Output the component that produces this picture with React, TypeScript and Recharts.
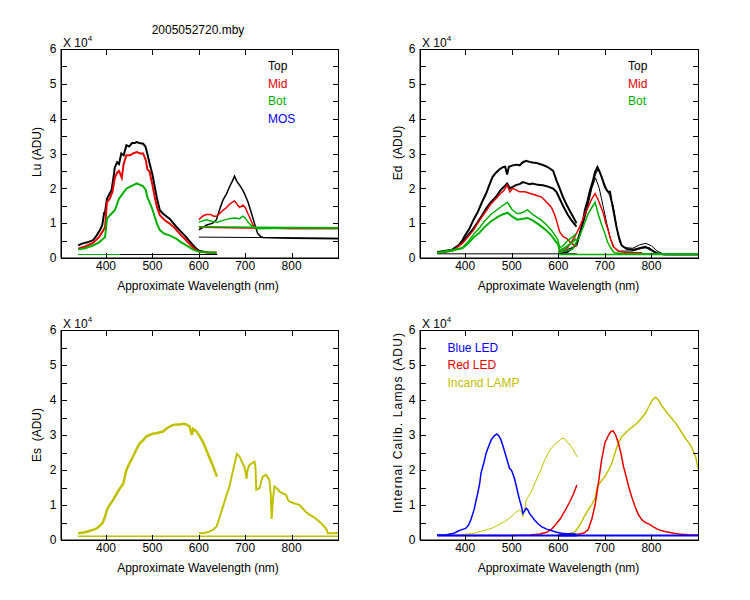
import React from 'react';
import { LineChart, Line, XAxis, YAxis } from 'recharts';

const FONT = '"Liberation Sans", Arial, Helvetica, sans-serif';
const BLACK = '#000000';
const RED = '#e80000';
const GREEN = '#00b000';
const BLUE = '#0000ff';
const OLIVE = '#c0c000';

const X_DOMAIN = [303, 900];
const Y_DOMAIN = [0, 6];
const X_TICKS = [400, 500, 600, 700, 800];
const Y_TICKS = [0, 0.5, 1, 1.5, 2, 2.5, 3, 3.5, 4, 4.5, 5, 5.5, 6];

// ---------- Lu panel (values in units of 10^4 ADU) ----------
const luBaseA = [[340, 0.1], [640, 0.1]];
const luBotBaseA = [[340, 0.1], [430, 0.1]];
const luTopA = [[340, 0.36], [350, 0.42], [360, 0.45], [372, 0.51], [380, 0.65], [387, 0.8], [392, 0.95], [396, 1.3], [398, 1.32], [402, 1.7], [408, 1.85], [412, 1.95], [416, 2.3], [419, 2.6], [424, 2.75], [428, 2.7], [433, 3.0], [438, 2.95], [444, 3.24], [450, 3.2], [456, 3.3], [462, 3.3], [466, 3.33], [472, 3.3], [480, 3.28], [485, 3.2], [489, 3.0], [494, 2.71], [500, 2.4], [505, 2.04], [510, 1.7], [516, 1.37], [523, 1.27], [530, 1.2], [537, 1.13], [545, 1.0], [552, 0.89], [562, 0.75], [573, 0.6], [580, 0.48], [588, 0.36], [595, 0.26], [602, 0.2], [620, 0.16], [638, 0.15]];
const luTopB = [[600, 0.81], [616, 0.94], [630, 1.0], [638, 1.1], [645, 1.4], [652, 1.66], [660, 1.85], [666, 2.04], [672, 2.2], [677, 2.35], [682, 2.2], [688, 2.09], [695, 1.94], [700, 1.8], [706, 1.61], [712, 1.35], [717, 1.13], [722, 0.9], [727, 0.7], [733, 0.62], [738, 0.59], [760, 0.58], [800, 0.57], [850, 0.56], [900, 0.55]];
const luTopFlatB = [[600, 0.6], [700, 0.59], [800, 0.58], [900, 0.57]];
const luMidA = [[340, 0.27], [355, 0.33], [372, 0.43], [385, 0.6], [392, 0.75], [398, 0.89], [402, 1.6], [408, 1.7], [414, 1.9], [419, 2.3], [424, 2.45], [428, 2.5], [434, 2.3], [438, 2.7], [444, 2.95], [452, 2.95], [458, 3.0], [466, 3.04], [474, 3.0], [480, 3.0], [486, 2.8], [489, 2.55], [494, 2.47], [500, 2.1], [505, 1.75], [510, 1.45], [516, 1.23], [523, 1.13], [530, 1.05], [537, 0.99], [545, 0.9], [552, 0.8], [562, 0.65], [573, 0.51], [580, 0.4], [588, 0.3], [595, 0.22], [602, 0.18], [620, 0.16], [638, 0.15]];
const luMidB = [[600, 1.1], [608, 1.2], [616, 1.25], [625, 1.25], [632, 1.2], [638, 1.2], [645, 1.28], [652, 1.37], [660, 1.45], [666, 1.54], [672, 1.6], [677, 1.64], [682, 1.55], [688, 1.45], [695, 1.52], [700, 1.45], [706, 1.27], [712, 1.1], [717, 0.94], [722, 0.88], [727, 0.86], [800, 0.85], [900, 0.85]];
const luMidFlatB = [[600, 0.88], [700, 0.86], [800, 0.85], [900, 0.85]];
const luBotA = [[340, 0.24], [355, 0.28], [372, 0.36], [385, 0.45], [398, 0.6], [402, 1.13], [410, 1.25], [419, 1.37], [424, 1.55], [428, 1.7], [436, 1.85], [444, 1.99], [452, 2.05], [460, 2.1], [466, 2.14], [474, 2.1], [480, 2.06], [486, 1.95], [489, 1.75], [494, 1.6], [500, 1.4], [505, 1.18], [510, 0.98], [516, 0.8], [525, 0.7], [537, 0.65], [552, 0.55], [562, 0.45], [573, 0.36], [588, 0.24], [602, 0.17], [638, 0.15]];
const luBotB = [[600, 1.03], [616, 1.1], [630, 1.05], [640, 1.03], [652, 1.08], [666, 1.13], [677, 1.15], [688, 1.13], [695, 1.2], [700, 1.15], [706, 1.03], [712, 0.95], [717, 0.89], [727, 0.84], [800, 0.86], [900, 0.86]];
const luBotFlatB = [[600, 0.9], [720, 0.88], [900, 0.87]];

// ---------- Ed panel ----------
const edBaseA = [[340, 0.12], [640, 0.12]];
const edBaseB = [[600, 0.1], [900, 0.1]];
const edTopA = [[340, 0.17], [355, 0.2], [372, 0.24], [385, 0.35], [394, 0.51], [400, 0.65], [409, 0.84], [418, 1.1], [427, 1.32], [436, 1.6], [445, 1.85], [452, 2.1], [459, 2.33], [466, 2.45], [474, 2.55], [481, 2.61], [486, 2.62], [490, 2.4], [494, 2.62], [502, 2.66], [510, 2.68], [517, 2.66], [524, 2.75], [531, 2.79], [538, 2.76], [545, 2.74], [553, 2.73], [560, 2.7], [567, 2.67], [574, 2.63], [582, 2.57], [589, 2.5], [596, 2.23], [603, 2.0], [610, 1.75], [617, 1.55], [624, 1.37], [632, 1.18], [639, 1.0]];
const edTop2A = [[340, 0.15], [372, 0.22], [394, 0.45], [409, 0.7], [418, 0.85], [427, 1.03], [436, 1.22], [445, 1.42], [455, 1.6], [466, 1.75], [476, 1.95], [484, 2.05], [490, 2.14], [496, 2.0], [502, 2.04], [510, 2.1], [517, 2.12], [524, 2.18], [531, 2.15], [538, 2.12], [545, 2.14], [556, 2.1], [567, 2.09], [578, 2.05], [589, 1.99], [596, 1.9], [603, 1.7], [610, 1.5], [620, 1.25], [630, 1.05], [639, 0.9]];
const edTopB = [[600, 0.15], [620, 0.18], [632, 0.3], [640, 0.45], [646, 0.7], [652, 1.0], [657, 1.37], [663, 1.65], [668, 1.94], [674, 2.2], [679, 2.47], [684, 2.61], [688, 2.5], [693, 2.33], [700, 2.04], [704, 1.95], [707, 1.9], [711, 1.9], [714, 1.66], [720, 1.25], [725, 0.89], [730, 0.6], [736, 0.36], [747, 0.26], [762, 0.24], [776, 0.29], [787, 0.32], [798, 0.24], [812, 0.13], [830, 0.1], [900, 0.1]];
const edTop2B = [[600, 0.15], [630, 0.25], [645, 0.6], [660, 1.35], [670, 1.95], [680, 2.4], [686, 2.55], [692, 2.35], [700, 2.1], [710, 1.8], [718, 1.5], [725, 0.9], [732, 0.45], [740, 0.3], [760, 0.28], [775, 0.38], [788, 0.42], [800, 0.35], [812, 0.2], [825, 0.12], [900, 0.1]];
const edTop3B = [[600, 0.15], [640, 0.35], [660, 1.3], [672, 2.0], [680, 2.3], [688, 2.0], [696, 1.5], [704, 1.0], [712, 0.55], [720, 0.3], [730, 0.2], [760, 0.2], [780, 0.28], [795, 0.3], [810, 0.15], [830, 0.1]];
const edMidA = [[340, 0.15], [372, 0.2], [394, 0.42], [409, 0.65], [418, 0.8], [427, 1.0], [436, 1.18], [445, 1.35], [455, 1.55], [466, 1.7], [476, 1.85], [484, 1.95], [490, 2.1], [496, 1.9], [502, 2.0], [510, 1.95], [517, 1.9], [528, 1.9], [540, 1.85], [552, 1.8], [564, 1.75], [575, 1.6], [585, 1.46], [592, 1.25], [596, 1.08], [603, 0.75], [610, 0.62], [618, 0.56], [626, 0.45], [634, 0.37], [639, 0.33]];
const edMidB = [[600, 0.2], [620, 0.3], [635, 0.6], [646, 0.89], [655, 1.2], [664, 1.46], [672, 1.7], [679, 1.85], [686, 1.66], [692, 1.45], [697, 1.27], [702, 1.0], [707, 0.8], [712, 0.55], [718, 0.33], [729, 0.19], [750, 0.15], [780, 0.15]];
const edBotHiA = [[340, 0.15], [372, 0.2], [394, 0.3], [405, 0.45], [419, 0.7], [430, 0.85], [441, 1.05], [455, 1.25], [470, 1.4], [480, 1.5], [491, 1.6], [500, 1.4], [512, 1.27], [522, 1.3], [534, 1.38], [545, 1.25], [556, 1.15], [564, 1.08], [575, 0.95], [585, 0.8], [593, 0.65], [599, 0.52], [603, 0.3], [610, 0.35], [620, 0.5], [630, 0.6], [639, 0.7]];
const edBotLoA = [[340, 0.15], [394, 0.28], [405, 0.4], [419, 0.6], [430, 0.72], [441, 0.88], [455, 1.05], [470, 1.18], [480, 1.25], [491, 1.3], [500, 1.2], [512, 1.1], [522, 1.12], [534, 1.15], [545, 1.08], [556, 0.98], [564, 0.9], [575, 0.78], [585, 0.65], [593, 0.5], [599, 0.4], [603, 0.22], [615, 0.3], [630, 0.45], [639, 0.55]];
const edBotB = [[600, 0.15], [630, 0.25], [645, 0.6], [655, 0.95], [664, 1.27], [672, 1.45], [679, 1.6], [686, 1.25], [692, 1.0], [700, 0.7], [706, 0.45], [712, 0.3], [720, 0.15], [740, 0.12], [900, 0.12]];

// ---------- Es panel ----------
const esBase = [[340, 0.11], [900, 0.11]];
const esA = [[340, 0.19], [355, 0.22], [372, 0.29], [380, 0.33], [387, 0.41], [393, 0.5], [398, 0.67], [402, 0.86], [408, 1.0], [415, 1.14], [422, 1.3], [430, 1.48], [437, 1.6], [444, 2.0], [451, 2.2], [458, 2.38], [466, 2.6], [473, 2.77], [480, 2.85], [487, 2.96], [494, 3.0], [502, 3.04], [509, 3.05], [516, 3.08], [523, 3.1], [530, 3.18], [538, 3.25], [545, 3.29], [552, 3.3], [559, 3.3], [566, 3.32], [573, 3.3], [580, 3.25], [585, 3.0], [588, 3.18], [595, 3.1], [602, 2.96], [609, 2.8], [616, 2.58], [623, 2.35], [631, 2.1], [639, 1.81]];
const esB = [[600, 0.19], [612, 0.2], [623, 0.24], [631, 0.3], [638, 0.38], [645, 0.65], [652, 0.95], [659, 1.25], [666, 1.53], [674, 2.0], [682, 2.46], [688, 2.38], [694, 2.2], [698, 2.1], [701, 1.91], [703, 1.75], [705, 2.0], [709, 2.14], [715, 2.2], [720, 2.24], [722, 2.1], [724, 1.43], [731, 1.48], [735, 1.7], [738, 1.81], [745, 1.86], [752, 1.72], [755, 1.3], [757, 0.6], [760, 1.2], [763, 1.53], [770, 1.45], [774, 1.38], [781, 1.33], [788, 1.29], [792, 1.15], [795, 1.1], [805, 1.05], [817, 1.0], [824, 0.9], [831, 0.8], [839, 0.72], [846, 0.67], [853, 0.6], [860, 0.52], [866, 0.45], [871, 0.38], [876, 0.28], [878, 0.19], [890, 0.19], [900, 0.2]];

// ---------- Internal calibration lamps panel ----------
const incandA = [[391, 0.15], [405, 0.17], [419, 0.19], [437, 0.26], [456, 0.33], [470, 0.42], [484, 0.52], [495, 0.62], [506, 0.76], [517, 0.86], [521, 0.8], [524, 0.67], [528, 0.9], [531, 1.14], [536, 1.25], [542, 1.38], [549, 1.6], [556, 1.81], [564, 2.05], [571, 2.29], [578, 2.47], [585, 2.62], [592, 2.73], [600, 2.81], [605, 2.88], [610, 2.91], [615, 2.87], [621, 2.77], [627, 2.68], [632, 2.58], [637, 2.45], [641, 2.37]];
const incandB = [[600, 0.15], [620, 0.17], [636, 0.24], [643, 0.36], [650, 0.52], [657, 0.7], [664, 0.86], [672, 1.02], [679, 1.19], [683, 1.5], [686, 1.57], [693, 1.7], [700, 1.81], [708, 2.0], [715, 2.19], [722, 2.5], [729, 2.77], [736, 2.95], [744, 3.05], [751, 3.15], [758, 3.22], [766, 3.3], [773, 3.39], [780, 3.5], [787, 3.62], [794, 3.8], [802, 4.0], [809, 4.08], [816, 3.98], [823, 3.82], [830, 3.7], [837, 3.58], [845, 3.45], [852, 3.34], [859, 3.2], [866, 3.05], [873, 2.9], [881, 2.77], [888, 2.6], [895, 2.38], [900, 2.05]];
const redLedA = [[340, 0.13], [500, 0.13], [540, 0.14], [560, 0.17], [575, 0.22], [585, 0.3], [595, 0.45], [605, 0.62], [615, 0.85], [625, 1.1], [632, 1.3], [640, 1.57]];
const redLedB = [[600, 0.14], [640, 0.16], [655, 0.2], [664, 0.29], [672, 0.6], [679, 1.0], [686, 1.62], [693, 2.29], [700, 2.77], [708, 3.0], [713, 3.1], [718, 3.12], [723, 3.0], [729, 2.77], [735, 2.45], [740, 2.1], [746, 1.8], [751, 1.53], [758, 1.22], [765, 0.95], [772, 0.72], [780, 0.57], [787, 0.5], [794, 0.46], [805, 0.37], [816, 0.29], [827, 0.25], [837, 0.22], [848, 0.19], [859, 0.17], [870, 0.16], [881, 0.15], [900, 0.14]];
const blueLedA = [[340, 0.14], [360, 0.15], [376, 0.19], [384, 0.25], [391, 0.29], [401, 0.33], [407, 0.42], [412, 0.57], [419, 0.86], [423, 1.1], [427, 1.34], [431, 1.6], [434, 1.91], [440, 2.2], [445, 2.48], [451, 2.7], [456, 2.86], [462, 2.97], [468, 3.03], [472, 2.98], [477, 2.86], [482, 2.65], [488, 2.38], [493, 2.15], [495, 2.05], [499, 2.0], [502, 1.91], [506, 1.75], [510, 1.53], [514, 1.3], [517, 1.14], [521, 0.95], [524, 0.76], [527, 0.82], [531, 0.91], [535, 0.85], [538, 0.76], [544, 0.66], [549, 0.57], [556, 0.47], [564, 0.38], [575, 0.31], [585, 0.27], [596, 0.22], [607, 0.19], [620, 0.18], [639, 0.17]];
const blueBaseA = [[340, 0.13], [640, 0.13]];
const blueBaseB = [[600, 0.13], [900, 0.13]];

const pts = (arr: number[][]) => arr.map(([x, v]) => ({ x, v }));

type Series = { data: number[][]; color: string; w?: number };

const tickText = { fontFamily: FONT, fontSize: 12, fill: '#000' };
const TL = 5; // inward tick length

const BottomLabel = (p: any) => (
  <text x={p.x} y={p.y + 12} textAnchor="middle" {...tickText}>{p.payload.value}</text>
);
const LeftLabel = (p: any) => {
  const v = p.payload.value;
  return Number.isInteger(v) ? (
    <text x={p.x - 4.5} y={p.y + 4.3} textAnchor="end" {...tickText}>{v}</text>
  ) : <g />;
};

// Box frame with inward ticks on all four sides, built from HTML borders
// (positions from the same domains the chart axes use).
const HtmlFrame = ({ l, r, t, b }: { l: number; r: number; t: number; b: number }) => {
  const xp = (nm: number) => Math.round(l + ((nm - X_DOMAIN[0]) / (X_DOMAIN[1] - X_DOMAIN[0])) * (r - l));
  const yp = (v: number) => Math.round(b - ((v - Y_DOMAIN[0]) / (Y_DOMAIN[1] - Y_DOMAIN[0])) * (b - t));
  const blk = (key: string, left: number, top: number, width: number, height: number) => (
    <div key={key} style={{ position: 'absolute', left, top, width, height, background: '#000' }} />
  );
  return (
    <>
      {blk('top', l, t, r - l + 1, 1)}
      {blk('bottom', l, b, r - l + 1, 1)}
      {blk('left', l, t, 1, b - t + 1)}
      {blk('right', r, t, 1, b - t + 1)}
      {X_TICKS.map((nm) => blk(`xb${nm}`, xp(nm), b - TL, 1, TL))}
      {X_TICKS.map((nm) => blk(`xt${nm}`, xp(nm), t + 1, 1, TL))}
      {Y_TICKS.map((v) => blk(`yl${v}`, l + 1, yp(v), TL, 1))}
      {Y_TICKS.map((v) => blk(`yr${v}`, r - TL, yp(v), TL, 1))}
    </>
  );
};

function Panel({ left, top, mLeft, mRight, mTop, mBottom, series }: { left: number; top: number; mLeft: number; mRight: number; mTop: number; mBottom: number; series: Series[] }) {
  return (
    <div style={{ position: 'absolute', left, top, width: 375, height: 300 }}>
      <LineChart width={375} height={300} margin={{ top: mTop, right: mRight, bottom: 0, left: 0 }}>
        <XAxis dataKey="x" type="number" domain={X_DOMAIN} allowDataOverflow ticks={X_TICKS} interval={0}
          height={mBottom} tickSize={0} tickMargin={0} tickLine={false}
          axisLine={{ stroke: '#000' }} tick={BottomLabel} />
        <YAxis type="number" domain={Y_DOMAIN} allowDataOverflow ticks={Y_TICKS} interval={0}
          width={mLeft} tickSize={0} tickMargin={0} tickLine={false}
          axisLine={{ stroke: '#000' }} tick={LeftLabel} />
        {series.map((s, i) => (
          <Line key={i} data={pts(s.data)} dataKey="v" type="linear"
            stroke={s.color} strokeWidth={s.w ?? 1} dot={false} activeDot={false} isAnimationActive={false} />
        ))}
      </LineChart>
    </div>
  );
}

const luSeries: Series[] = [
  { data: luBaseA, color: BLACK },
  { data: luTopFlatB, color: BLACK },
  { data: luTopA, color: BLACK, w: 2 },
  { data: luTopB, color: BLACK, w: 1.5 },
  { data: luMidFlatB, color: RED, w: 1.5 },
  { data: luMidA, color: RED, w: 2 },
  { data: luMidB, color: RED, w: 1.5 },
  { data: luBotBaseA, color: GREEN },
  { data: luBotFlatB, color: GREEN, w: 1.5 },
  { data: luBotA, color: GREEN, w: 2 },
  { data: luBotB, color: GREEN, w: 1.5 },
];

const edSeries: Series[] = [
  { data: edBaseA, color: BLACK },
  { data: edTopA, color: BLACK, w: 2 },
  { data: edTop2A, color: BLACK, w: 2 },
  { data: edTopB, color: BLACK, w: 2 },
  { data: edTop2B, color: BLACK },
  { data: edTop3B, color: BLACK },
  { data: edMidA, color: RED, w: 1.5 },
  { data: edMidB, color: RED, w: 1.5 },
  { data: edBaseB, color: GREEN, w: 1.5 },
  { data: edBotHiA, color: GREEN, w: 1.5 },
  { data: edBotLoA, color: GREEN, w: 2 },
  { data: edBotB, color: GREEN, w: 1.5 },
];

const esSeries: Series[] = [
  { data: esBase, color: OLIVE, w: 1.5 },
  { data: esA, color: OLIVE, w: 2.5 },
  { data: esB, color: OLIVE, w: 2 },
];

const calSeries: Series[] = [
  { data: incandA, color: OLIVE },
  { data: incandB, color: OLIVE, w: 1.5 },
  { data: redLedA, color: RED, w: 1.5 },
  { data: redLedB, color: RED, w: 1.5 },
  { data: blueLedA, color: BLUE, w: 1.5 },
  { data: blueBaseA, color: BLUE, w: 2 },
  { data: blueBaseB, color: BLUE, w: 2 },
];

const Exp = ({ x, y }: { x: number; y: number }) => (
  <text x={x} y={y} fontSize={12} fill="#000">
    X 10<tspan dy={-6} fontSize={8}>4</tspan>
  </text>
);

const YLabel = ({ x, y, text, len }: { x: number; y: number; text: string; len?: number }) => (
  <text transform={`translate(${x},${y}) rotate(-90)`} textAnchor="middle" fontSize={12} fill="#000"
    style={{ whiteSpace: 'pre' }} {...(len ? { textLength: len, lengthAdjust: 'spacing' } : {})}>{text}</text>
);

const XLabel = ({ x, y }: { x: number; y: number }) => (
  <text x={x} y={y} textAnchor="middle" fontSize={12} fill="#000">Approximate Wavelength (nm)</text>
);

export default function App() {
  return (
    <div style={{ position: 'absolute', left: 0, top: 0, width: 750, height: 600, background: '#fff', fontFamily: FONT }}>
      <Panel left={0} top={0} mLeft={61} mRight={37} mTop={49} mBottom={42} series={luSeries} />
      <Panel left={375} top={0} mLeft={45} mRight={52} mTop={49} mBottom={42} series={edSeries} />
      <Panel left={0} top={300} mLeft={61} mRight={37} mTop={30} mBottom={60} series={esSeries} />
      <Panel left={375} top={300} mLeft={45} mRight={52} mTop={30} mBottom={60} series={calSeries} />
      <svg width={750} height={600} style={{ position: 'absolute', left: 0, top: 0, pointerEvents: 'none' }} fontFamily={FONT}>
        <text x={198} y={34} textAnchor="middle" fontSize={12} fill="#000">2005052720.mby</text>
        <Exp x={63} y={47} />
        <Exp x={422} y={47} />
        <Exp x={63} y={328} />
        <Exp x={422} y={328} />

        <text x={268} y={70} fontSize={12} fill={BLACK}>Top</text>
        <text x={268} y={87.5} fontSize={12} fill={RED}>Mid</text>
        <text x={268} y={105} fontSize={12} fill={GREEN}>Bot</text>
        <text x={268} y={122.5} fontSize={12} fill={BLUE}>MOS</text>

        <text x={628} y={70} fontSize={12} fill={BLACK}>Top</text>
        <text x={628} y={87.5} fontSize={12} fill={RED}>Mid</text>
        <text x={628} y={105} fontSize={12} fill={GREEN}>Bot</text>

        <text x={447.5} y={351.5} fontSize={12} fill={BLUE}>Blue LED</text>
        <text x={447.5} y={369} fontSize={12} fill={RED}>Red LED</text>
        <text x={447.5} y={386.5} fontSize={12} fill={OLIVE}>Incand LAMP</text>

        <YLabel x={41} y={152} text="Lu (ADU)" />
        <YLabel x={401.5} y={153} text={'Ed  (ADU)'} />
        <YLabel x={41} y={435} text={'Es  (ADU)'} />
        <YLabel x={401.5} y={423} text="Internal Calib. Lamps (ADU)" len={180} />

        <XLabel x={198} y={290} />
        <XLabel x={558.5} y={290} />
        <XLabel x={198} y={572} />
        <XLabel x={558.5} y={572} />
      </svg>
      <HtmlFrame l={61} r={338} t={49} b={258} />
      <HtmlFrame l={420} r={698} t={49} b={258} />
      <HtmlFrame l={61} r={338} t={330} b={540} />
      <HtmlFrame l={420} r={698} t={330} b={540} />
    </div>
  );
}
